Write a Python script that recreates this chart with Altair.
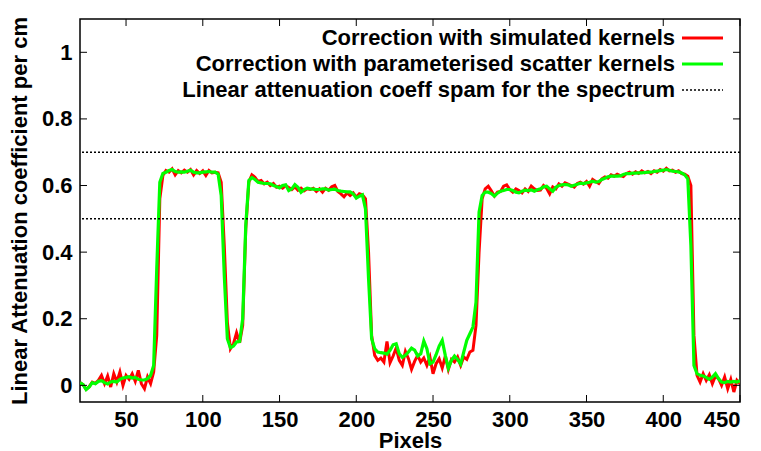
import altair as alt
import pandas as pd

# ---------------- data ----------------
pixels = list(range(20, 451, 2))

red_vals = [
    0.008, 0.002, -0.012, -0.004, 0.010, 0.006, 0.015, 0.030, 0.005, 0.028,
    -0.005, 0.035, 0.010, 0.040, 0.000, 0.030, 0.018, 0.035, 0.012, 0.045,
    0.005, -0.010, 0.025, 0.005, 0.040, 0.150, 0.560, 0.630, 0.645, 0.640,
    0.650, 0.632, 0.645, 0.638, 0.646, 0.640, 0.648, 0.632, 0.645, 0.636,
    0.644, 0.630, 0.645, 0.638, 0.640, 0.638, 0.610, 0.420, 0.190, 0.110,
    0.125, 0.158, 0.128, 0.180, 0.470, 0.610, 0.632, 0.625, 0.612, 0.615,
    0.605, 0.610, 0.600, 0.606, 0.595, 0.598, 0.592, 0.600, 0.594, 0.588,
    0.596, 0.586, 0.592, 0.584, 0.590, 0.588, 0.592, 0.582, 0.590, 0.580,
    0.592, 0.586, 0.596, 0.600, 0.582, 0.575, 0.566, 0.578, 0.570, 0.578,
    0.565, 0.575, 0.572, 0.560, 0.400, 0.150, 0.090, 0.075, 0.082, 0.070,
    0.132, 0.068, 0.088, 0.112, 0.075, 0.060, 0.102, 0.080, 0.048, 0.072,
    0.090, 0.070, 0.082, 0.060, 0.085, 0.035, 0.065, 0.080, 0.052, 0.088,
    0.048, 0.078, 0.070, 0.085, 0.060, 0.085, 0.078, 0.100, 0.105, 0.180,
    0.400, 0.560, 0.590, 0.598, 0.584, 0.568, 0.580, 0.582, 0.598, 0.602,
    0.588, 0.580, 0.590, 0.585, 0.578, 0.590, 0.582, 0.598, 0.590, 0.585,
    0.586, 0.600, 0.592, 0.575, 0.596, 0.590, 0.605, 0.598, 0.608, 0.604,
    0.600, 0.595, 0.606, 0.610, 0.604, 0.612, 0.598, 0.618, 0.612, 0.606,
    0.620, 0.626, 0.622, 0.632, 0.628, 0.634, 0.630, 0.627, 0.636, 0.640,
    0.634, 0.641, 0.636, 0.644, 0.638, 0.642, 0.636, 0.644, 0.640, 0.648,
    0.643, 0.652, 0.644, 0.646, 0.640, 0.644, 0.636, 0.634, 0.628, 0.600,
    0.150, 0.030, 0.010, 0.035, 0.015, 0.032, 0.005, 0.028, 0.020, 0.000,
    0.025, -0.010, 0.018, -0.020, 0.015, 0.005,
]

green_vals = [
    0.008, 0.002, -0.013, -0.005, 0.008, 0.005, 0.012, 0.014, 0.008, 0.004,
    0.010, 0.012, 0.010, 0.018, 0.022, 0.024, 0.026, 0.022, 0.024, 0.018,
    0.016, 0.016, 0.020, 0.030, 0.060, 0.350, 0.610, 0.636, 0.640, 0.645,
    0.648, 0.642, 0.640, 0.641, 0.640, 0.643, 0.646, 0.640, 0.638, 0.638,
    0.640, 0.641, 0.642, 0.640, 0.640, 0.634, 0.570, 0.330, 0.140, 0.113,
    0.118, 0.130, 0.132, 0.200, 0.480, 0.615, 0.624, 0.618, 0.610, 0.608,
    0.606, 0.606, 0.605, 0.600, 0.597, 0.593, 0.600, 0.602, 0.585, 0.590,
    0.603, 0.595, 0.580, 0.588, 0.592, 0.590, 0.589, 0.588, 0.588, 0.590,
    0.590, 0.586, 0.588, 0.589, 0.585, 0.583, 0.582, 0.581, 0.581, 0.575,
    0.562, 0.568, 0.572, 0.530, 0.320, 0.140, 0.110, 0.100, 0.098, 0.097,
    0.094, 0.105, 0.122, 0.125, 0.095, 0.084, 0.090, 0.100, 0.112, 0.106,
    0.088, 0.095, 0.133, 0.110, 0.065, 0.070, 0.092, 0.118, 0.135, 0.090,
    0.052, 0.075, 0.088, 0.078, 0.064, 0.100, 0.135, 0.155, 0.175, 0.250,
    0.520, 0.570, 0.580, 0.580, 0.576, 0.568, 0.577, 0.583, 0.585, 0.588,
    0.588, 0.585, 0.580, 0.578, 0.583, 0.586, 0.585, 0.587, 0.583, 0.587,
    0.590, 0.596, 0.598, 0.590, 0.583, 0.595, 0.600, 0.602, 0.603, 0.602,
    0.598, 0.601, 0.604, 0.607, 0.606, 0.608, 0.610, 0.613, 0.610, 0.612,
    0.618, 0.622, 0.626, 0.628, 0.628, 0.628, 0.629, 0.633, 0.636, 0.636,
    0.637, 0.637, 0.638, 0.638, 0.639, 0.640, 0.640, 0.642, 0.643, 0.645,
    0.646, 0.648, 0.646, 0.643, 0.642, 0.641, 0.638, 0.632, 0.620, 0.420,
    0.060, 0.035, 0.030, 0.028, 0.024, 0.018, 0.025, 0.035, 0.020, 0.010,
    0.008, 0.012, 0.010, 0.012, 0.010, 0.014,
]

ref_levels = [0.5, 0.7]
x_ticks = [50, 100, 150, 200, 250, 300, 350, 400, 450]
y_ticks = [0, 0.2, 0.4, 0.6, 0.8, 1.0]
legend_labels = [
    "Correction with simulated kernels",
    "Correction with parameterised scatter kernels",
    "Linear attenuation coeff spam for the spectrum",
]

RED = "#ff0000"
GREEN = "#00ff00"
FONT = "Liberation Sans"
FS = 22
W, H = 660, 383

df_red = pd.DataFrame({"Pixels": pixels, "mu": red_vals})
df_green = pd.DataFrame({"Pixels": pixels, "mu": green_vals})
df_ref = pd.DataFrame({"mu": ref_levels})
df_xt = pd.DataFrame({"Pixels": x_ticks})
df_yt = pd.DataFrame({"mu": y_ticks})
df_one = pd.DataFrame({"k": [0]})

xs = alt.Scale(domain=[20, 450], nice=False, zero=False)
ys = alt.Scale(domain=[-0.05, 1.1], nice=False, zero=False)

x_axis = alt.Axis(values=x_ticks, title="Pixels", titleBaseline="alphabetic", titleY=45)
y_axis = alt.Axis(values=y_ticks, format="~g",
                  title="Linear Attenuation coefficient per cm", titlePadding=10)

X = alt.X("Pixels:Q", scale=xs, axis=x_axis)
Y = alt.Y("mu:Q", scale=ys, axis=y_axis)

red = alt.Chart(df_red).mark_line(color=RED, strokeWidth=3, clip=True).encode(x=X, y=Y)
green = alt.Chart(df_green).mark_line(color=GREEN, strokeWidth=3.2, clip=True).encode(x=X, y=Y)

refs = alt.Chart(df_ref).mark_rule(color="black", strokeWidth=1.5, strokeDash=[2, 2]).encode(y=Y)

# inward ticks on all four sides
tick_l = alt.Chart(df_yt).mark_rule(color="black", strokeWidth=1).encode(
    y=Y, x=alt.value(0), x2=alt.value(7))
tick_r = alt.Chart(df_yt).mark_rule(color="black", strokeWidth=1).encode(
    y=Y, x=alt.value(W - 7), x2=alt.value(W))
tick_b = alt.Chart(df_xt).mark_rule(color="black", strokeWidth=1).encode(
    x=X, y=alt.value(H - 7), y2=alt.value(H))
tick_t = alt.Chart(df_xt).mark_rule(color="black", strokeWidth=1).encode(
    x=X, y=alt.value(0), y2=alt.value(7))

# manual legend (labels right-aligned, samples to the right)
legend_layers = []
row_y = [19, 45, 71]
styles = [
    dict(color=RED, strokeWidth=3),
    dict(color=GREEN, strokeWidth=3.2),
    dict(color="black", strokeWidth=1.5, strokeDash=[2, 2]),
]
for lab, yy, st in zip(legend_labels, row_y, styles):
    legend_layers.append(
        alt.Chart(df_one).mark_text(
            text=lab, align="right", baseline="middle", font=FONT,
            fontSize=FS, fontWeight="bold", color="black"
        ).encode(x=alt.value(595), y=alt.value(yy))
    )
    legend_layers.append(
        alt.Chart(df_one).mark_rule(**st).encode(
            x=alt.value(602), x2=alt.value(643), y=alt.value(yy))
    )

chart = alt.layer(
    red, green, refs, tick_l, tick_r, tick_b, tick_t, *legend_layers
).properties(
    width=W, height=H,
    autosize=alt.AutoSizeParams(type="none"),
    padding={"left": 72, "top": 11, "right": 10, "bottom": 48},
).configure_view(
    stroke="black", strokeWidth=1.5
).configure_axis(
    ticks=False, domain=False, grid=False,
    labelFont=FONT, labelFontSize=FS, labelFontWeight="bold", labelColor="black",
    titleFont=FONT, titleFontSize=FS, titleFontWeight="bold", titleColor="black",
    labelPadding=8,
).configure_axisX(labelPadding=7)

chart.save("out.html", embed_options={"renderer": "svg", "actions": False})
